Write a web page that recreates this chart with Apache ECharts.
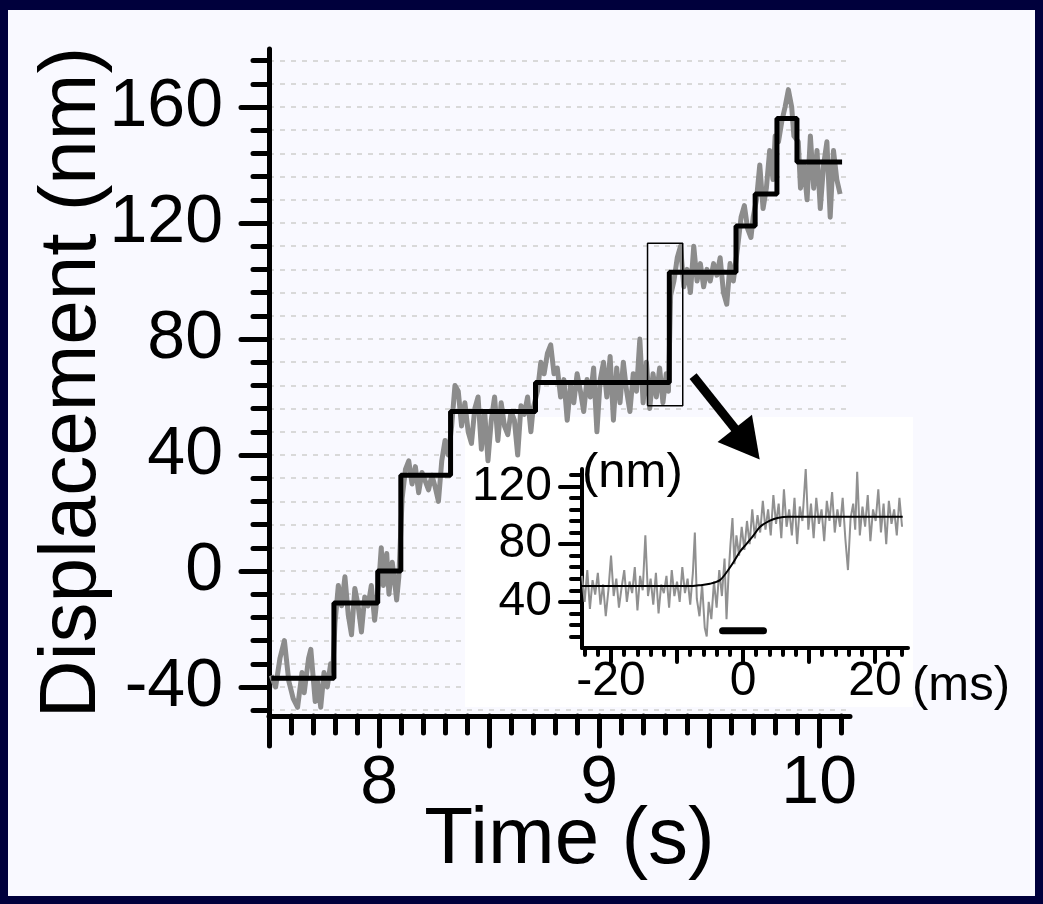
<!DOCTYPE html>
<html>
<head>
<meta charset="utf-8">
<script src="https://cdn.jsdelivr.net/npm/echarts@6/dist/echarts.min.js"></script>
<style>
  html, body { margin: 0; padding: 0; background: #00003c; width: 1043px; height: 904px; overflow: hidden; }
  #chart { position: absolute; left: 8px; top: 10px; width: 1027px; height: 886px; }
</style>
</head>
<body>
<div id="chart"></div>
<script>
// main trace: time (s), displacement (nm)
const traceData = [
  [7.51,-36],[7.53,-40],[7.55,-30],[7.57,-24],[7.59,-38],[7.61,-44],[7.63,-47],[7.65,-35],[7.66,-42],
  [7.68,-30],[7.69,-27],[7.71,-45],[7.72,-38],[7.735,-47],[7.75,-35],[7.765,-40],[7.78,-32],[7.79,-34],
  [7.80,-18],[7.815,-5],[7.83,-12],[7.845,-2],[7.86,-15],[7.875,-22],[7.89,-6],[7.905,-12],[7.92,-21],
  [7.935,-9],[7.95,-12],[7.965,-5],[7.98,-17],
  [8.00,-3],[8.01,8],[8.02,-5],[8.035,6],[8.045,-8],[8.06,3],[8.07,-3],[8.08,-10],[8.09,-2],
  [8.105,25],[8.12,35],[8.135,38],[8.15,30],[8.165,36],[8.18,27],[8.195,34],[8.21,31],[8.225,28],
  [8.24,33],[8.255,29],[8.27,24],[8.285,38],[8.30,45],[8.315,40],
  [8.33,50],[8.345,64],[8.36,62],[8.375,50],[8.39,58],[8.405,48],[8.42,44],[8.435,56],[8.45,60],
  [8.465,42],[8.48,55],[8.495,38],[8.51,52],[8.525,60],[8.54,45],[8.555,58],[8.57,50],[8.585,47],
  [8.60,55],[8.615,52],[8.63,40],[8.645,57],[8.66,54],[8.675,60],[8.69,48],[8.70,56],
  [8.72,62],[8.735,72],[8.75,68],[8.765,75],[8.78,78],[8.795,68],[8.81,70],[8.825,60],[8.84,66],
  [8.855,52],[8.87,64],[8.885,58],[8.90,68],[8.915,62],[8.93,55],[8.945,66],[8.96,60],[8.975,70],
  [8.99,48],[9.005,66],[9.02,72],[9.035,60],[9.05,74],[9.065,52],[9.08,70],[9.095,58],[9.11,72],
  [9.125,62],[9.14,55],[9.155,68],[9.17,62],[9.185,80],[9.20,58],[9.215,72],[9.23,56],[9.245,68],
  [9.26,60],[9.275,70],[9.29,58],[9.305,68],[9.315,62],
  [9.325,95],[9.34,100],[9.355,108],[9.37,112],[9.385,98],[9.40,104],[9.415,96],[9.43,112],[9.445,100],
  [9.46,106],[9.475,98],[9.49,104],[9.505,100],[9.52,106],[9.535,102],[9.55,108],[9.565,96],[9.58,92],
  [9.595,106],[9.61,100],
  [9.63,112],[9.645,122],[9.66,126],[9.675,118],[9.69,115],[9.70,122],
  [9.715,128],[9.73,140],[9.745,125],[9.76,132],[9.775,145],[9.79,135],[9.80,150],
  [9.815,148],[9.83,155],[9.845,160],[9.86,166],[9.875,160],[9.885,150],
  [9.905,148],[9.915,132],[9.93,140],[9.945,128],[9.96,150],[9.975,132],[9.99,145],[10.005,125],
  [10.02,140],[10.035,148],[10.05,122],[10.065,145],[10.08,135],[10.095,130]
];

// step fit: start time of each dwell and its level
const stepT  = [7.51, 7.795, 7.994, 8.099, 8.325, 8.711, 9.319, 9.622, 9.709, 9.808, 9.899, 10.104];
const stepNm = [-37, -11, 0, 33, 55, 65, 103, 119, 130, 156, 141, 141];

// zoom box and arrow (data units of the main axes)
const boxData = [[9.22, 57], [9.38, 57], [9.38, 113], [9.22, 113], [9.22, 57]];
const arrowFrom = [9.427, 67.2];
const arrowTo = [9.673, 43.8];

// inset: time (ms), displacement (nm)
const insetTrace = [
  [-24.4,58],[-24.0,40],[-23.6,62],[-23.2,35],[-22.8,55],[-22.4,45],[-22.0,60],[-21.6,38],[-21.2,52],
  [-20.8,30],[-20.4,48],[-20.0,72],[-19.6,44],[-19.2,56],[-18.8,36],[-18.4,50],[-18.0,62],[-17.6,40],
  [-17.2,54],[-16.8,46],[-16.4,64],[-16.0,34],[-15.6,58],[-15.2,48],[-14.8,86],[-14.4,44],[-14.0,56],
  [-13.6,38],[-13.2,60],[-12.8,32],[-12.4,52],[-12.0,46],[-11.6,58],[-11.2,36],[-10.8,62],[-10.4,44],
  [-10.0,54],[-9.6,40],[-9.2,64],[-8.8,46],[-8.4,56],[-8.0,38],[-7.6,60],[-7.3,88],[-7.0,42],[-6.6,30],
  [-6.2,52],[-5.8,22],[-5.5,16],[-5.2,40],[-4.8,28],[-4.4,54],[-4.0,36],[-3.6,62],[-3.2,44],[-2.8,70],
  [-2.5,28],[-2.2,58],[-1.9,80],[-1.6,98],[-1.3,66],[-1.0,86],[-0.6,72],[-0.2,92],[0.2,76],[0.6,96],
  [1.0,80],[1.4,104],[1.8,84],[2.2,100],[2.6,88],[3.0,110],[3.4,90],[3.8,104],[4.2,86],[4.6,114],
  [5.0,94],[5.4,108],[5.8,84],[6.2,118],[6.6,92],[7.0,104],[7.4,86],[7.8,112],[8.2,80],[8.6,106],
  [9.0,96],[9.5,132],[9.9,90],[10.3,108],[10.7,84],[11.1,112],[11.5,94],[11.9,104],[12.3,82],[12.7,110],
  [13.1,96],[13.5,116],[13.9,88],[14.3,104],[14.7,92],[15.1,112],[15.5,84],[15.9,62],[16.3,98],[16.7,108],
  [17.0,90],[17.3,130],[17.7,86],[18.1,106],[18.5,92],[18.9,114],[19.3,82],[19.7,104],[20.1,96],[20.5,118],
  [20.9,88],[21.3,108],[21.7,80],[22.1,110],[22.5,94],[22.9,104],[23.3,86],[23.7,112],[24.1,92]
];
const insetFit = [
  [-24.4,51],[-7.6,51],[-6.5,51.5],[-5,52.5],[-3.5,55],[-2.4,61],[-1.5,67],[-0.5,74.5],[0.5,80],
  [1.5,85.5],[2.6,92],[4,96],[5.2,98],[6.8,99],[24.2,99]
];
const scaleBar = [[-3.1, 20], [3.1, 20]];

// ticks and labels
const yMinorTicks = [-48,-40,-32,-24,-16,-8,0,8,16,24,32,40,48,56,64,72,80,88,96,104,112,120,128,136,144,152,160,168,176];
const yMajorTicks = [-40, 0, 40, 80, 120, 160];
const xMinorTicks = [7.5,7.6,7.7,7.8,7.9,8,8.1,8.2,8.3,8.4,8.5,8.6,8.7,8.8,8.9,9,9.1,9.2,9.3,9.4,9.5,9.6,9.7,9.8,9.9,10,10.1];
const xMajorTicks = [7.5, 8, 8.5, 9, 9.5, 10];
const xLabels = [8, 9, 10];
const insetYMinor = [16,24,32,40,48,56,64,72,80,88,96,104,112,120,128];
const insetYMajor = [40, 80, 120];
const insetXMinor = [-24,-22,-20,-18,-16,-14,-12,-10,-8,-6,-4,-2,0,2,4,6,8,10,12,14,16,18,20,22,24];
const insetXMajor = [-20, -10, 0, 10, 20];
const insetXLabels = [-20, 0, 20];

const black = '#000';
const font = 'Liberation Sans, Arial, sans-serif';

function mkAxis(o) {
  return {
    type: 'value',
    gridIndex: o.grid,
    position: o.position,
    min: o.min,
    max: o.max,
    z: o.z || 0,
    nameMoveOverlap: false,
    axisLine: { show: !!o.line, onZero: false, lineStyle: { color: black, width: o.width, cap: 'round' } },
    axisTick: { show: true, customValues: o.ticks, length: o.len, lineStyle: { color: black, width: o.width, cap: 'round' } },
    axisLabel: o.labels
      ? { show: true, customValues: o.labels, color: black, fontFamily: font, fontSize: o.fontSize, margin: o.margin }
      : { show: false },
    splitLine: o.split
      ? { show: true, lineStyle: { color: '#d9d9d9', width: 2, type: [5, 6] } }
      : { show: false }
  };
}

const chart = echarts.init(document.getElementById('chart'));

const xMain = mkAxis({ grid: 0, position: 'bottom', min: 7.5, max: 10.14, line: true, width: 5,
  ticks: xMinorTicks, len: 17, labels: xLabels, fontSize: 68, margin: 34 });
xMain.name = 'Time (s)';
xMain.nameLocation = 'middle';
xMain.nameGap = 85;
xMain.nameTextStyle = { fontSize: 80, color: black, fontFamily: font, padding: [0, 0, 0, 20] };

const yMain = mkAxis({ grid: 0, position: 'left', min: -50, max: 180, line: true, width: 5,
  ticks: yMinorTicks, len: 16, labels: yMajorTicks, fontSize: 68, margin: 46, split: true });
yMain.name = 'Displacement (nm)';
yMain.nameLocation = 'middle';
yMain.nameGap = 156;
yMain.nameTextStyle = { fontSize: 80, color: black, fontFamily: font };

const xInset = mkAxis({ grid: 1, position: 'bottom', min: -24.4, max: 25, line: true, width: 4,
  ticks: insetXMinor, len: 7, labels: insetXLabels, fontSize: 48, margin: 10, z: 3 });
xInset.name = '(ms)';
xInset.nameLocation = 'end';
xInset.nameGap = 4;
xInset.nameTextStyle = { fontSize: 49, color: black, fontFamily: font, align: 'left', verticalAlign: 'top', padding: [14, 0, 0, 0] };

const yInset = mkAxis({ grid: 1, position: 'left', min: 8, max: 132, line: true, width: 4,
  ticks: insetYMinor, len: 11, labels: insetYMajor, fontSize: 48, margin: 30, z: 3 });
yInset.name = '(nm)';
yInset.nameLocation = 'end';
yInset.nameGap = -4;
yInset.nameTextStyle = { fontSize: 49, color: black, fontFamily: font, align: 'left', verticalAlign: 'middle' };

const option = {
  animation: false,
  backgroundColor: '#f9f9ff',
  grid: [
    { left: 261, top: 39, width: 581, height: 667, outerBoundsMode: 'none' },
    { left: 574, top: 459, width: 326, height: 179, outerBoundsMode: 'none' }
  ],
  graphic: [
    { type: 'rect', z: 1, silent: true, shape: { x: 457, y: 407, width: 448, height: 290 }, style: { fill: '#ffffff' } }
  ],
  xAxis: [
    xMain,
    mkAxis({ grid: 0, position: 'bottom', min: 7.5, max: 10.14, line: false, width: 5, ticks: xMajorTicks, len: 30 }),
    xInset,
    mkAxis({ grid: 1, position: 'bottom', min: -24.4, max: 25, line: false, width: 4, ticks: insetXMajor, len: 14, z: 3 })
  ],
  yAxis: [
    yMain,
    mkAxis({ grid: 0, position: 'left', min: -50, max: 180, line: false, width: 5, ticks: yMajorTicks, len: 28 }),
    yInset,
    mkAxis({ grid: 1, position: 'left', min: 8, max: 132, line: false, width: 4, ticks: insetYMajor, len: 22, z: 3 })
  ],
  series: [
    {
      type: 'line', xAxisIndex: 0, yAxisIndex: 0, data: traceData, symbol: 'none', z: 2,
      lineStyle: { color: '#8c8c8c', width: 5, join: 'round' }
    },
    {
      type: 'line', xAxisIndex: 0, yAxisIndex: 0, step: 'end', symbol: 'none', z: 3,
      data: stepT.map((t, i) => [t, stepNm[i]]),
      lineStyle: { color: black, width: 5 }
    },
    {
      type: 'line', xAxisIndex: 0, yAxisIndex: 0, data: boxData, symbol: 'none', z: 4,
      lineStyle: { color: black, width: 1.5 },
      markLine: {
        silent: true,
        symbol: ['none', 'triangle'],
        symbolSize: [44, 40],
        label: { show: false },
        lineStyle: { color: black, width: 9, type: 'solid' },
        data: [[{ coord: arrowFrom }, { coord: arrowTo }]]
      }
    },
    {
      type: 'line', xAxisIndex: 2, yAxisIndex: 2, data: insetTrace, symbol: 'none', z: 5,
      lineStyle: { color: '#909090', width: 2 }
    },
    {
      type: 'line', xAxisIndex: 2, yAxisIndex: 2, data: insetFit, symbol: 'none', z: 6, smooth: 0.3,
      lineStyle: { color: black, width: 2 }
    },
    {
      type: 'line', xAxisIndex: 2, yAxisIndex: 2, data: scaleBar, symbol: 'none', z: 6,
      lineStyle: { color: black, width: 7, cap: 'round' }
    }
  ]
};

chart.setOption(option);
</script>
</body>
</html>
